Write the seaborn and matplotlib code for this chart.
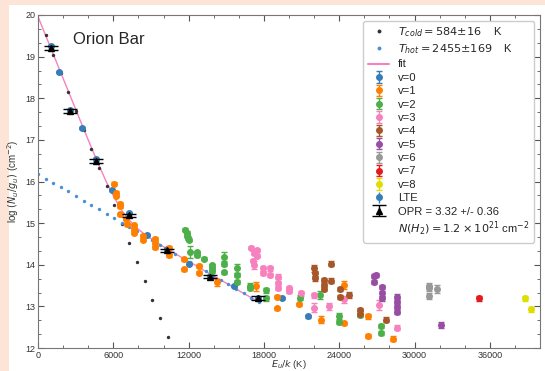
import matplotlib
matplotlib.use("Agg")
import numpy as np
import pandas as pd
import seaborn as sns
from matplotlib import pyplot as plt
from matplotlib.ticker import MultipleLocator, AutoMinorLocator
from matplotlib.lines import Line2D
from matplotlib.patches import Rectangle

# excitation diagram, Orion Bar
E_grid = [0, 607, 1214, 1821, 2428, 3035, 3642, 4249, 4856, 5463, 6070, 6677, 7284, 7891, 8498,
          9105, 9712, 10319, 10926, 11533, 12140, 12747, 13354, 13961, 14568, 15175, 15782, 16389,
          16996, 17603]
N_hot = [16.18, 16.07, 15.97, 15.86, 15.76, 15.65, 15.54, 15.44, 15.33, 15.22, 15.12, 15.01, 14.91,
         14.80, 14.69, 14.59, 14.48, 14.37, 14.27, 14.16, 14.06, 13.95, 13.84, 13.74, 13.63, 13.53,
         13.42, 13.31, 13.21, 13.10]
N_fit = [19.96, 19.51, 19.06, 18.61, 18.16, 17.71, 17.26, 16.82, 16.39, 15.98, 15.62, 15.30, 15.07,
         14.88, 14.73, 14.61, 14.49, 14.37, 14.27, 14.16, 14.06, 13.95, 13.84, 13.74, 13.63, 13.53,
         13.42, 13.31, 13.21, 13.10]
E_cold = [607, 1214, 1821, 2428, 3035, 3642, 4249, 4856, 5463, 6070, 6677, 7284, 7891, 8498, 9105,
          9712, 10319]
N_cold = [19.51, 19.05, 18.60, 18.15, 17.69, 17.24, 16.79, 16.33, 15.88, 15.43, 14.97, 14.52, 14.07,
          13.61, 13.16, 12.71, 12.27]

E_v0 = [1037, 1700, 2554, 3535, 4604, 5881, 7262, 8674, 10270, 11995, 13726, 15641, 17500, 19447, 21490]
N_v0 = [19.26, 18.63, 17.72, 17.28, 16.53, 15.79, 15.24, 14.71, 14.37, 14.03, 13.73, 13.49, 13.19, 13.20, 12.76]
err_v0 = [0.03] * 15

E_v1 = [6065, 6224, 6224, 6500, 6520, 6544, 6996, 7075, 7660, 7660, 7660, 8406, 8406, 9338, 9338, 9338,
        10400, 10400, 11597, 11597, 12860, 12860, 14261, 17396, 19048, 19048, 20775, 22583, 24419,
        24419, 26330, 26330, 28250]
N_v1 = [15.95, 15.72, 15.66, 15.46, 15.40, 15.21, 15.11, 14.97, 14.95, 14.85, 14.77, 14.69, 14.60,
        14.62, 14.52, 14.42, 14.41, 14.23, 14.13, 13.89, 13.97, 13.81, 13.58, 13.48, 13.23, 12.95,
        13.05, 12.68, 13.51, 12.59, 12.76, 12.29, 12.22]
err_v1 = [0.04] * 22 + [0.08, 0.1, 0.04, 0.04, 0.04, 0.08, 0.1, 0.04, 0.06, 0.04, 0.06]

E_v2 = [11730, 11860, 11900, 11960, 12000, 12130, 12640, 12640, 13190, 13880, 13880, 13880, 14840,
        14840, 14840, 15830, 15830, 15830, 16920, 16920, 18200, 18200, 20908, 22450, 24020, 24020,
        25640, 27350, 27350]
N_v2 = [14.84, 14.76, 14.70, 14.64, 14.60, 14.31, 14.30, 14.23, 14.15, 13.99, 13.91, 13.84, 14.19,
        14.03, 13.82, 13.91, 13.75, 13.59, 13.50, 13.43, 13.39, 13.19, 13.21, 13.27, 12.76, 12.63,
        12.79, 12.53, 12.36]
err_v2 = [0.04] * 5 + [0.15, 0.04, 0.04, 0.04, 0.04, 0.04, 0.04, 0.12, 0.05, 0.04, 0.1, 0.05, 0.05,
                      0.06, 0.04, 0.06, 0.06, 0.06, 0.1, 0.08, 0.06, 0.05, 0.04, 0.04]

E_v3 = [17000, 17450, 17200, 17450, 17100, 17250, 17930, 17930, 18460, 18460, 19130, 19130, 19130,
        19970, 19970, 20930, 21970, 21970, 23170, 24420, 27160, 28620]
N_v3 = [14.41, 14.35, 14.28, 14.22, 14.10, 14.00, 13.91, 13.80, 13.91, 13.75, 13.71, 13.57, 13.45,
        13.45, 13.37, 13.31, 13.27, 12.97, 13.00, 13.17, 13.04, 12.49]
err_v3 = [0.04, 0.04, 0.04, 0.04, 0.04, 0.1, 0.05, 0.05, 0.05, 0.05, 0.06, 0.05, 0.05, 0.05, 0.05,
          0.06, 0.06, 0.1, 0.08, 0.08, 0.12, 0.06]

E_v4 = [21970, 22100, 22100, 22820, 22820, 22820, 23350, 23350, 24040, 24040, 24820, 25690, 25690, 27750]
N_v4 = [13.91, 13.79, 13.67, 13.63, 13.51, 13.41, 14.03, 13.61, 13.42, 13.23, 13.27, 12.91, 12.82, 12.68]
err_v4 = [0.08, 0.05, 0.05, 0.05, 0.05, 0.05, 0.06, 0.06, 0.05, 0.05, 0.08, 0.06, 0.06, 0.06]

E_v5 = [26760, 26970, 26760, 27430, 27430, 27430, 28570, 28570, 28570, 28570, 32080]
N_v5 = [13.73, 13.76, 13.59, 13.47, 13.31, 13.19, 13.23, 13.11, 12.99, 12.87, 12.55]
err_v5 = [0.05, 0.05, 0.05, 0.05, 0.05, 0.05, 0.06, 0.05, 0.05, 0.05, 0.07]

E_v6 = [31150, 31150, 31150, 31760]
N_v6 = [13.49, 13.43, 13.25, 13.41]
err_v6 = [0.06, 0.06, 0.08, 0.1]

E_v7 = [35140]
N_v7 = [13.20]
err_v7 = [0.06]

E_v8 = [38780, 39310]
N_v8 = [13.20, 12.93]
err_v8 = [0.06, 0.06]

E_opr = [1037, 2554, 4628, 7262, 10294, 13726, 17500]
N_opr = [19.21, 17.69, 16.49, 15.19, 14.35, 13.71, 13.20]

colors = ['#377eb8', '#ff7f00', '#4daf4a', '#f781bf', '#a65628',
          '#984ea3', '#999999', '#e41a1c', '#dede00']

sns.set_style("ticks")
plt.rcParams['font.family'] = ['Liberation Sans', 'DejaVu Sans']
plt.rcParams['mathtext.fontset'] = 'dejavusans'

fig = plt.figure(figsize=(5.45, 3.71), dpi=100)
fig.patch.set_facecolor('#fce4d6')
fig.add_artist(Rectangle((9 / 545, 0), 1, 366 / 371, transform=fig.transFigure,
                         facecolor='white', edgecolor='none', zorder=-10))
ax = fig.add_axes([38 / 545, 1 - 348 / 371, 502 / 545, 333 / 371])

sns.lineplot(x=E_grid, y=N_fit, color='#f781bf', lw=1, ax=ax, zorder=1)
sns.scatterplot(x=E_cold, y=N_cold, color='#333333', s=6, linewidth=0, ax=ax, zorder=2)
sns.scatterplot(x=E_grid, y=N_hot, color='#4a90d9', s=6, linewidth=0, ax=ax, zorder=2)

series = [(E_v0, N_v0, err_v0), (E_v1, N_v1, err_v1), (E_v2, N_v2, err_v2), (E_v3, N_v3, err_v3),
          (E_v4, N_v4, err_v4), (E_v5, N_v5, err_v5), (E_v6, N_v6, err_v6), (E_v7, N_v7, err_v7),
          (E_v8, N_v8, err_v8)]
handles = [Line2D([], [], ls='none', marker='o', ms=1.8, color='#333333'),
           Line2D([], [], ls='none', marker='o', ms=1.8, color='#4a90d9'),
           Line2D([], [], color='#f781bf', lw=1.5)]
labels = [r'$T_{cold} = 584{\pm}16$    K', r'$T_{hot} = 2455{\pm}169$    K', 'fit']
for i, (e, n, er) in enumerate(series):
    h = ax.errorbar(e, n, yerr=er, fmt='o', ms=4, color=colors[i], capsize=2,
                    elinewidth=1, capthick=1, zorder=3)
    handles.append(h)
    labels.append(f'v={i}')

h_lte = ax.errorbar([], [], yerr=[], fmt='o', ms=4, color='#377eb8', capsize=2, elinewidth=1)
handles.append(h_lte)
labels.append('LTE')
h_opr = ax.errorbar(E_opr, N_opr, yerr=0.04, fmt='^', ms=4, color='k', capsize=5,
                    elinewidth=1, capthick=1, zorder=5)
handles.append(h_opr)
labels.append('OPR = 3.32 +/- 0.36')
handles.append(Line2D([], [], ls='none'))
labels.append(r'$N(H_2) = 1.2 \times 10^{21}$ cm$^{-2}$')

ax.legend(handles, labels, loc='upper right', fontsize=8.1, labelspacing=0.3,
          handlelength=1.9, handletextpad=0.8, framealpha=1, edgecolor='#cccccc',
          borderpad=0.4)

ax.text(0.07, 0.925, 'Orion Bar', transform=ax.transAxes, fontsize=12, va='center', ha='left')

ax.set_xlim(0, 40000)
ax.set_ylim(12, 20)
ax.xaxis.set_major_locator(MultipleLocator(6000))
ax.xaxis.set_minor_locator(AutoMinorLocator(3))
ax.yaxis.set_major_locator(MultipleLocator(1))
ax.yaxis.set_minor_locator(AutoMinorLocator(3))
ax.tick_params(which='both', direction='in', top=True, right=True, labelsize=6.5,
               labelcolor='#333333', color='#555555', pad=2)
ax.tick_params(which='major', length=4, width=0.8)
ax.tick_params(which='minor', length=2, width=0.6)
for s in ax.spines.values():
    s.set_color('#777777')
    s.set_linewidth(0.8)
ax.set_xlabel(r'$E_u/k$ (K)', fontsize=6.8, labelpad=-1.5, color='#333333')
ax.set_ylabel(r'log $(N_u/g_u)$ (cm$^{-2}$)', fontsize=7, labelpad=3, color='#333333')

fig.savefig('out.png', dpi=100, facecolor=fig.get_facecolor())
